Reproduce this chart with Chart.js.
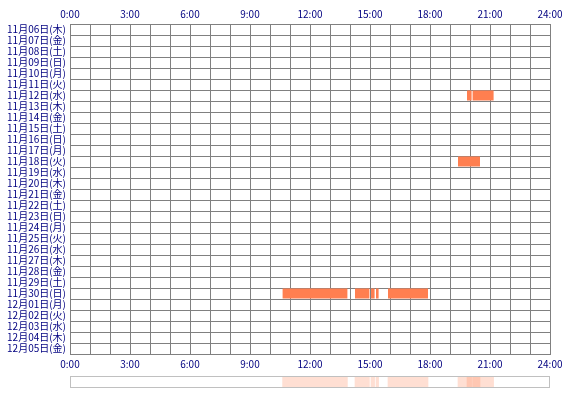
<!DOCTYPE html>
<html>
<head>
<meta charset="utf-8">
<script src="https://cdn.jsdelivr.net/npm/chart.js@4/dist/chart.umd.min.js"></script>
<style>
  html, body { margin: 0; padding: 0; background: #fff; }
  #wrap { position: relative; width: 570px; height: 400px; }
  #main { position: absolute; left: 0; top: 0; }
  #strip { position: absolute; left: 0; top: 372px; }
</style>
</head>
<body>
<div id="wrap">
  <canvas id="main" width="570" height="372"></canvas>
  <canvas id="strip" width="570" height="28"></canvas>
</div>
<script>
// day rows
const days = [
  '11月06日(木)','11月07日(金)','11月08日(土)','11月09日(日)','11月10日(月)',
  '11月11日(火)','11月12日(水)','11月13日(木)','11月14日(金)','11月15日(土)',
  '11月16日(日)','11月17日(月)','11月18日(火)','11月19日(水)','11月20日(木)',
  '11月21日(金)','11月22日(土)','11月23日(日)','11月24日(月)','11月25日(火)',
  '11月26日(水)','11月27日(木)','11月28日(金)','11月29日(土)','11月30日(日)',
  '12月01日(月)','12月02日(火)','12月03日(水)','12月04日(木)','12月05日(金)'
];

// sessions: which day, start hour, end hour
const sessionDay   = ['11月12日(水)','11月12日(水)','11月18日(火)','11月30日(日)','11月30日(日)','11月30日(日)','11月30日(日)','11月30日(日)'];
const sessionStart = [19.85, 20.13, 19.40, 10.63, 14.25, 15.05, 15.30, 15.90];
const sessionEnd   = [20.08, 21.18, 20.50, 13.87, 14.97, 15.23, 15.43, 17.90];

const hourMin = 0, hourMax = 24;

const navy = '#000080';
const gridCol = '#808080';
const barCol = '#FF7F50';
const font = {family: '"Noto Sans CJK JP", "Noto Sans", sans-serif', size: 10};

function hourLabel(v){
	return (v % 3 === 0) ? v + ':00' : '';
}

const sessions = sessionDay.map(function(d,i){
	return {x: [sessionStart[i], sessionEnd[i]], y: d};
});

new Chart(document.getElementById('main'), {
	type: 'bar',
	data: {
		labels: days,
		datasets: [{
			data: sessions,
			backgroundColor: barCol,
			borderWidth: 0,
			barPercentage: 0.91,
			categoryPercentage: 1,
			xAxisID: 'x'
		}]
	},
	options: {
		indexAxis: 'y',
		responsive: false,
		animation: false,
		layout: {padding: {left: 0, right: 20, top: 0, bottom: 0}},
		plugins: {legend: {display: false}, tooltip: {enabled: false}},
		scales: {
			x: {
				type: 'linear', position: 'bottom', min: hourMin, max: hourMax,
				afterFit: function(s){ s.height = 18; },
				grid: {color: gridCol, lineWidth: 1, drawTicks: false},
				border: {color: gridCol},
				ticks: {stepSize: 1, autoSkip: false, maxRotation: 0, padding: 4,
					color: navy, font: font, callback: hourLabel}
			},
			xTop: {
				type: 'linear', position: 'top', min: hourMin, max: hourMax,
				afterFit: function(s){ s.height = 24; },
				grid: {drawOnChartArea: false, drawTicks: false},
				border: {color: gridCol},
				ticks: {stepSize: 1, autoSkip: false, maxRotation: 0, padding: 4,
					color: navy, font: font, callback: hourLabel}
			},
			y: {
				type: 'category',
				afterFit: function(s){ s.width = 70; },
				grid: {color: gridCol, lineWidth: 1, drawTicks: false, offset: true},
				border: {color: gridCol},
				ticks: {autoSkip: false, padding: 4, color: navy, font: font}
			}
		}
	}
});

// overview strip below the grid
const frame = {
	id: 'frame',
	afterDraw: function(chart){
		const a = chart.chartArea, ctx = chart.ctx;
		ctx.save();
		ctx.strokeStyle = '#C0C0C0';
		ctx.lineWidth = 1;
		ctx.strokeRect(Math.round(a.left) + 0.5, Math.round(a.top) + 0.5,
			Math.round(a.right - a.left) - 1, Math.round(a.bottom - a.top) - 1);
		ctx.restore();
	}
};

new Chart(document.getElementById('strip'), {
	type: 'bar',
	data: {
		labels: ['all'],
		datasets: [{
			data: sessions.map(function(s){ return {x: s.x, y: 'all'}; }),
			backgroundColor: 'rgba(255,127,80,0.25)',
			borderWidth: 0,
			barPercentage: 1,
			categoryPercentage: 1
		}]
	},
	options: {
		indexAxis: 'y',
		responsive: false,
		animation: false,
		layout: {padding: {left: 70, right: 20, top: 4, bottom: 12}},
		plugins: {legend: {display: false}, tooltip: {enabled: false}},
		scales: {
			x: {type: 'linear', min: hourMin, max: hourMax, display: false},
			y: {type: 'category', display: false}
		}
	},
	plugins: [frame]
});
</script>
</body>
</html>
